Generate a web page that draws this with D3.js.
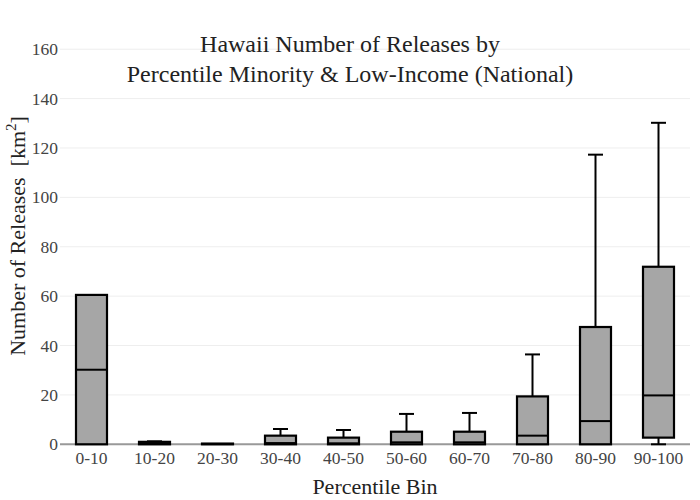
<!DOCTYPE html>
<html><head><meta charset="utf-8">
<script src="https://cdn.jsdelivr.net/npm/d3@7"></script>
<style>body{margin:0;background:#fff}svg{display:block}</style>
</head><body>
<svg id="c" width="700" height="500"></svg>
<script>
const categories = ["0-10","10-20","20-30","30-40","40-50","50-60","60-70","70-80","80-90","90-100"];
const lowerWhisker = [0, 0, 0, 0, 0, 0, 0, 0, 0, 0];
const q1Values     = [0, 0, 0, 0, 0, 0, 0, 0, 0, 2.7];
const medianValues = [30.2, 0.4, 0.1, 0.5, 0.4, 0.8, 0.8, 3.5, 9.4, 19.8];
const q3Values     = [60.5, 1.0, 0.3, 3.5, 2.7, 5.1, 5.1, 19.4, 47.5, 71.9];
const upperWhisker = [60.5, 1.2, 0.3, 6.2, 5.8, 12.3, 12.7, 36.4, 117.3, 130.2];
const yTicks = [0, 20, 40, 60, 80, 100, 120, 140, 160];

(function () {
const SERIF = "'Times New Roman', 'Liberation Serif', serif";
const svg = d3.select("#c");
const mLeft = 60, mRight = 690, mTop = 27, mBottom = 444.3;
const x = d3.scaleBand().domain(categories).range([mLeft, mRight]);
const y = d3.scaleLinear().domain([0, 169]).range([mBottom, mTop]);

// gridlines
svg.append("g").selectAll("line").data(yTicks.filter(d => d > 0)).join("line")
  .attr("x1", mLeft).attr("x2", mRight)
  .attr("y1", d => y(d)).attr("y2", d => y(d))
  .attr("stroke", "#eeeeee").attr("stroke-width", 1);

// y axis labels
const yAxis = svg.append("g").attr("transform", `translate(${mLeft},0)`)
  .call(d3.axisLeft(y).tickValues(yTicks).tickSize(0).tickPadding(2));
yAxis.select(".domain").remove();
yAxis.selectAll("text").style("font-family", SERIF).style("font-size", "17.5px").attr("fill", "#444");

// zero line
svg.append("line").attr("x1", mLeft).attr("x2", mRight)
  .attr("y1", y(0)).attr("y2", y(0)).attr("stroke", "#999").attr("stroke-width", 2);

// x axis labels
const xAxis = svg.append("g").attr("transform", `translate(0,${mBottom})`)
  .call(d3.axisBottom(x).tickSize(0).tickPadding(7));
xAxis.select(".domain").remove();
xAxis.selectAll("text").style("font-family", SERIF).style("font-size", "17.5px").attr("fill", "#444");

const boxW = 31, capW = 15;
const data = categories.map((c, i) => ({c, lo: lowerWhisker[i], q1: q1Values[i], med: medianValues[i], q3: q3Values[i], hi: upperWhisker[i]}));
const g = svg.append("g").selectAll("g").data(data).join("g")
  .attr("transform", d => `translate(${x(d.c) + x.bandwidth() / 2},0)`);

// upper whisker
g.filter(d => d.hi > d.q3).append("line")
  .attr("x1", 0).attr("x2", 0).attr("y1", d => y(d.q3)).attr("y2", d => y(d.hi))
  .attr("stroke", "#000").attr("stroke-width", 2);
g.filter(d => d.hi > d.q3).append("line")
  .attr("x1", -capW / 2).attr("x2", capW / 2).attr("y1", d => y(d.hi)).attr("y2", d => y(d.hi))
  .attr("stroke", "#000").attr("stroke-width", 2);
// lower whisker
g.filter(d => d.lo < d.q1).append("line")
  .attr("x1", 0).attr("x2", 0).attr("y1", d => y(d.q1)).attr("y2", d => y(d.lo))
  .attr("stroke", "#000").attr("stroke-width", 2);
g.filter(d => d.lo < d.q1).append("line")
  .attr("x1", -capW / 2).attr("x2", capW / 2).attr("y1", d => y(d.lo)).attr("y2", d => y(d.lo))
  .attr("stroke", "#000").attr("stroke-width", 2);
// box
g.append("rect")
  .attr("x", -boxW / 2).attr("width", boxW)
  .attr("y", d => y(d.q3)).attr("height", d => Math.max(0.1, y(d.q1) - y(d.q3)))
  .attr("fill", "#a6a6a6").attr("stroke", "#000").attr("stroke-width", 2.2);
// median
g.append("line")
  .attr("x1", -boxW / 2).attr("x2", boxW / 2).attr("y1", d => y(d.med)).attr("y2", d => y(d.med))
  .attr("stroke", "#000").attr("stroke-width", 2);

// title
const title = svg.append("text").attr("text-anchor", "middle")
  .style("font-family", SERIF).style("font-size", "24px").attr("fill", "#222");
title.append("tspan").attr("x", 350).attr("y", 51.5).text("Hawaii Number of Releases by");
title.append("tspan").attr("x", 350).attr("y", 81.5).text("Percentile Minority & Low-Income (National)");

// x title
svg.append("text").attr("x", 375).attr("y", 494).attr("text-anchor", "middle")
  .style("font-family", SERIF).style("font-size", "22px").attr("fill", "#222").text("Percentile Bin");

// y title
const yt = svg.append("text").attr("transform", "translate(24.5,236) rotate(-90)")
  .attr("text-anchor", "middle").style("font-family", SERIF).style("font-size", "22px").attr("fill", "#222");
yt.append("tspan").text("Number of Releases\u00a0\u00a0[km");
yt.append("tspan").style("font-size", "15px").attr("dy", -9).text("2");
yt.append("tspan").attr("dy", 9).text("]");
})();
</script>
</body></html>
